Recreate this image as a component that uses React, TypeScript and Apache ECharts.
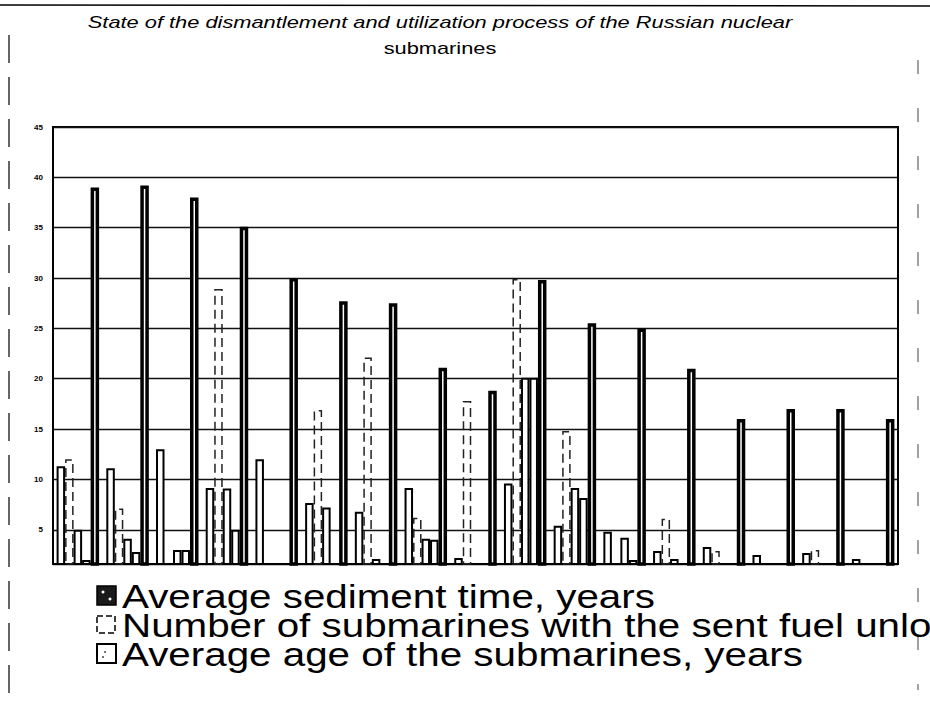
import React, { useEffect, useRef } from "react";
import * as echarts from "echarts";

const categories = ["1","2","3","4","5","6","7","8","9","10","11","12","13","14","15","16","17"];
const sedimentTime = [11.3, 11.1, 13.0, 9.15, 12.0, 7.65, 6.8, 9.15, 2.2, 9.6, 5.4, 4.8, 2.9, 3.3, 2.5, 2.7, 2.1];
const fuelUnloaded = [12.0, 7.1, null, 28.9, null, 16.9, 22.1, 6.2, 17.8, 29.9, 14.8, null, 6.1, 2.9, null, 3.0, null];
const seriesC = [5.0, 4.1, 3.0, 9.1, null, 7.2, 2.1, 4.1, null, 20.1, 9.15, 4.2, 2.1, null, null, null, null];
const seriesD = [2.0, 2.8, 3.0, 5.0, null, null, null, 4.0, null, 20.1, 8.15, 2.0, null, null, null, null, null];
const averageAge = [39.0, 39.2, 38.0, 35.1, 30.0, 27.7, 27.5, 21.1, 18.8, 29.8, 25.5, 25.0, 21.0, 16.0, 17.0, 17.0, 16.0];
const yTicks = [5, 10, 15, 20, 25, 30, 35, 40, 45];

const titleLine1 = "State of the dismantlement and utilization process of the Russian nuclear";
const titleLine2 = "submarines";
const legendNames = [
  "Average sediment time, years",
  "Number of submarines with the sent fuel unloaded",
  "Average age of the submarines, years",
];

const FONT = "'Liberation Sans', Arial, sans-serif";

function measure(text: string, font: string): number {
  const c = document.createElement("canvas");
  const ctx = c.getContext("2d")!;
  ctx.font = font;
  return ctx.measureText(text).width;
}

export default function App() {
  const ref = useRef<HTMLDivElement>(null);
  useEffect(() => {
    if (!ref.current) return;
    const chart = echarts.init(ref.current, null, { renderer: "svg" });

    const titleFont = `italic 17px ${FONT}`;
    const titleScale = 705 / measure(titleLine1, titleFont);
    const legendFont = `34px ${FONT}`;
    const legendScale = 533 / measure(legendNames[0], legendFont);

    const barW = 8.5;
    const thin = { color: "#fff", borderColor: "#000", borderWidth: 2 };

    const legendY = [596, 625, 654];
    const legendGraphics: any[] = [];
    legendNames.forEach((name, i) => {
      const y = legendY[i];
      if (i === 0) {
        legendGraphics.push({ type: "rect", shape: { x: 97, y: y - 10, width: 19, height: 19 }, style: { fill: "#1a1a1a", stroke: "#000", lineWidth: 1.5 } });
        legendGraphics.push({ type: "circle", shape: { cx: 103, cy: y - 4, r: 1.5 }, style: { fill: "#fff" } });
        legendGraphics.push({ type: "circle", shape: { cx: 110, cy: y + 3, r: 1.5 }, style: { fill: "#fff" } });
      } else if (i === 1) {
        legendGraphics.push({ type: "rect", shape: { x: 97, y: y - 9, width: 18, height: 17 }, style: { fill: "#fff", stroke: "#000", lineWidth: 1.5, lineDash: [6, 3] } });
      } else {
        legendGraphics.push({ type: "rect", shape: { x: 97, y: y - 10, width: 19, height: 19 }, style: { fill: "#fff", stroke: "#000", lineWidth: 2 } });
        legendGraphics.push({ type: "circle", shape: { cx: 105, cy: y - 2, r: 0.9 }, style: { fill: "#333" } });
        legendGraphics.push({ type: "circle", shape: { cx: 103, cy: y + 3, r: 0.9 }, style: { fill: "#333" } });
      }
      legendGraphics.push({
        type: "text",
        x: 122,
        y: y,
        scaleX: legendScale,
        style: { text: name, font: legendFont, fill: "#000", textAlign: "left", textVerticalAlign: "middle" },
      });
    });

    chart.setOption({
      animation: false,
      backgroundColor: "#fff",
      grid: { left: 53, right: 32, top: 127, bottom: 139, show: true, borderColor: "#000", borderWidth: 2, backgroundColor: "transparent" },
      xAxis: {
        type: "category",
        data: categories,
        axisLine: { lineStyle: { color: "#000", width: 2 } },
        axisTick: { show: false },
        axisLabel: { show: false },
      },
      yAxis: {
        type: "value",
        min: 1.6,
        max: 45,
        splitNumber: 9,
        axisLine: { show: true, lineStyle: { color: "#000", width: 2 } },
        axisTick: { show: false },
        axisLabel: {
          color: "#000",
          fontSize: 8,
          fontWeight: "bold",
          fontFamily: FONT,
          margin: 10,
          formatter: (v: number) => (yTicks.indexOf(v) >= 0 ? String(v) : ""),
        },
        splitLine: { lineStyle: { color: "#111", width: 1.3 } },
      },
      series: [
        { name: legendNames[0], type: "bar", data: sedimentTime, barWidth: barW, barGap: "0%", itemStyle: thin },
        { name: legendNames[1], type: "bar", data: fuelUnloaded, barWidth: barW, barGap: "0%", itemStyle: { color: "transparent", borderColor: "#222", borderWidth: 1.5, borderType: [9, 5] } },
        { name: "C", type: "bar", data: seriesC, barWidth: barW, barGap: "0%", itemStyle: thin },
        { name: "D", type: "bar", data: seriesD, barWidth: barW, barGap: "0%", itemStyle: thin },
        { name: legendNames[2], type: "bar", data: averageAge, barWidth: barW, barGap: "0%", itemStyle: { color: "#fff", borderColor: "#000", borderWidth: 3.5 } },
      ],
      graphic: [
        { type: "line", shape: { x1: 0, y1: 5, x2: 930, y2: 6 }, style: { stroke: "#000", lineWidth: 1.5 } },
        { type: "line", shape: { x1: 9, y1: 35, x2: 9, y2: 703 }, style: { stroke: "#000", lineWidth: 1.2, lineDash: [28, 14] } },
        { type: "line", shape: { x1: 918, y1: 60, x2: 918, y2: 690 }, style: { stroke: "#444", lineWidth: 1, lineDash: [14, 34] } },
        {
          type: "text",
          x: 440,
          y: 22,
          scaleX: titleScale,
          style: { text: titleLine1, font: titleFont, fill: "#000", textAlign: "center", textVerticalAlign: "middle" },
        },
        {
          type: "text",
          x: 440,
          y: 48,
          scaleX: titleScale,
          style: { text: titleLine2, font: `17px ${FONT}`, fill: "#000", textAlign: "center", textVerticalAlign: "middle" },
        },
        ...legendGraphics,
      ],
    });
    return () => chart.dispose();
  }, []);
  return <div ref={ref} style={{ width: 930, height: 703, position: "absolute", left: 0, top: 0 }} />;
}
